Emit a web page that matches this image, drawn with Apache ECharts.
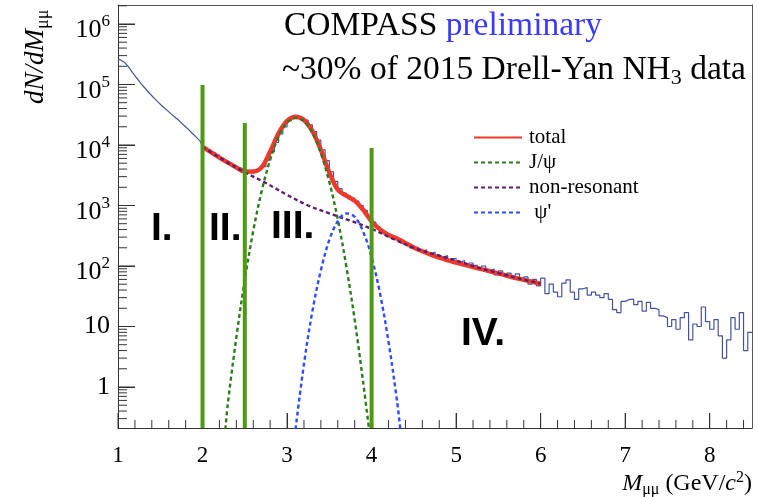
<!DOCTYPE html>
<html>
<head>
<meta charset="utf-8">
<script src="https://cdn.jsdelivr.net/npm/echarts@6/dist/echarts.min.js"></script>
<style>
  html, body { margin: 0; padding: 0; background: #fff; }
  #chart { width: 758px; height: 497px; }
</style>
</head>
<body>
<div id="chart"></div>
<script>
// dimuon mass histogram, 0.05 GeV bins starting at 1 GeV
const binWidth = 0.05;
const histStart = 1.0;
const histCounts = [
  257000, 234000, 195000, 155000, 126000, 102000, 85000, 71000, 60000, 51000,
  43600, 38000, 33000, 28800, 25100, 21400, 18600, 15800, 13500, 11500,
  9100, 8300, 7500, 6800, 6100, 5500, 5000, 4600, 4200, 3900,
  3600, 3450, 3600, 3900, 4400, 5600, 7700, 11000, 15200, 20000,
  25000, 28300, 29500, 28200, 25700, 21500, 16600, 12000, 8300, 5500,
  3600, 2500, 1900, 1600, 1450, 1320, 1180, 1000, 830, 660,
  530, 440, 390, 340, 316, 275, 282, 240, 234, 200,
  204, 174, 186, 158, 170, 151, 141, 148, 120, 132,
  115, 123, 98, 112, 102, 91, 100, 85, 89, 71,
  83, 69, 76, 63, 74, 58, 66, 50, 60, 47,
  63, 35, 50, 37, 31, 52, 59, 37, 28, 42,
  44, 33, 37, 33, 30, 35, 28, 19, 17, 26,
  28, 28, 23, 26, 18, 25, 20, 19, 15, 14,
  10, 13, 9, 14, 17, 6, 11, 10, 21, 12,
  9, 13, 7, 3, 6, 14, 9, 17, 4, 8
];
// below this mass the statistics are high and the spectrum is drawn as a curve
const smoothBins = 20;

// fit components
const totalX = [2.0, 2.1, 2.2, 2.3, 2.4, 2.5, 2.6, 2.7, 2.8, 2.9, 3.0, 3.1, 3.2, 3.3, 3.4, 3.5, 3.6, 3.7, 3.8, 3.9,
  4.0, 4.1, 4.2, 4.3, 4.4, 4.5, 4.6, 4.7, 4.8, 4.9, 5.0, 5.2, 5.4, 5.6, 5.8, 6.0];
const totalY = [9300, 7600, 6200, 5100, 4250, 3610, 3630, 4300, 7800, 15600, 25000, 29400, 25900, 16900, 8300, 3500, 1820, 1450, 1200, 850,
  545, 400, 326, 285, 240, 202, 175, 154, 137, 124, 114, 96, 82, 69, 59, 51];

const jpsiX = [2.27, 2.3, 2.4, 2.5, 2.6, 2.7, 2.8, 2.9, 3.0, 3.1, 3.2, 3.3, 3.4, 3.5, 3.6, 3.7, 3.8, 3.9, 3.97];
const jpsiY = [0.2, 0.54, 6.6, 59, 380, 1740, 5700, 13800, 23500, 28000, 24700, 15800, 7300, 2450, 590, 100, 13, 1.2, 0.2];

const nonresX = [2.0, 2.25, 2.5, 2.75, 3.0, 3.25, 3.5, 3.75, 4.0, 4.25, 4.5, 4.75, 5.0, 5.25, 5.5, 5.75, 6.0];
const nonresY = [9300, 5600, 3550, 2350, 1500, 1000, 740, 560, 410, 282, 200, 155, 123, 95, 76, 62, 51];

const psiPX = [3.10, 3.2, 3.3, 3.4, 3.5, 3.6, 3.7, 3.8, 3.9, 4.0, 4.1, 4.2, 4.3, 4.34];
const psiPY = [0.2, 2.4, 18, 85, 270, 550, 740, 650, 370, 140, 35, 5.6, 0.6, 0.2];

// region boundaries (green bars)
const cutX = [2.0, 2.5, 4.0];
const cutTop = [98000, 23000, 8900];

const xMin = 1, xMax = 8.5;
const yMin = 0.21, yMax = 2.06e6;

const SERIF = 'Liberation Serif';
const SANS = 'Liberation Sans';
const AXIS = '#333';

const pairs = (xs, ys) => xs.map((x, i) => [x, ys[i]]);
const edge = (i) => +(histStart + i * binWidth).toFixed(3);

// low-mass part through bin centres, rest as steps
const curveData = [[xMin, histCounts[0]]];
for (let i = 0; i < smoothBins; i++) curveData.push([edge(i) + binWidth / 2, histCounts[i]]);
curveData.push([edge(smoothBins), histCounts[smoothBins]]);

const stepData = [];
for (let i = smoothBins; i < histCounts.length; i++) stepData.push([edge(i), histCounts[i]]);
stepData.push([xMax, histCounts[histCounts.length - 1]]);

// tick positions: decades + 2..9 x 10^k on y, integers + every 0.2 on x
const yMajorTicks = [1, 10, 100, 1e3, 1e4, 1e5, 1e6];
const yMinorTicks = [];
for (let k = -1; k <= 6; k++) {
  for (let m = 2; m <= 9; m++) {
    const v = m * Math.pow(10, k);
    if (v > yMin && v < yMax) yMinorTicks.push(v);
  }
}
const xMajorTicks = [1, 2, 3, 4, 5, 6, 7, 8];
const xMinorTicks = [];
for (let i = 1; i < 38; i++) {
  const v = +(1 + i * 0.2).toFixed(1);
  if (Math.abs(v - Math.round(v)) > 1e-6) xMinorTicks.push(v);
}

const chart = echarts.init(document.getElementById('chart'));

const cutSeries = cutX.map((x, i) => ({
  type: 'line',
  data: [[x, yMin], [x, cutTop[i]]],
  symbol: 'none',
  lineStyle: { color: '#4f9a14', width: 4 },
  z: 8,
  silent: true
}));

const frameAxis = { show: true, axisLine: { show: true, lineStyle: { color: '#555', width: 1 } },
  axisTick: { show: false }, axisLabel: { show: false }, splitLine: { show: false } };

const option = {
  animation: false,
  grid: { left: 118, right: 6, top: 5, bottom: 69 },
  legend: {
    data: ['total', 'J/ψ', 'non-resonant', ' ψ\''],
    orient: 'vertical',
    left: 473,
    top: 127,
    padding: 0,
    itemWidth: 48,
    itemHeight: 12,
    itemGap: 4,
    itemStyle: { opacity: 0 },
    textStyle: { fontFamily: SERIF, fontSize: 21, color: '#000', padding: [0, 0, 0, 2] }
  },
  xAxis: [
    {
      type: 'value',
      min: xMin,
      max: xMax,
      interval: 1,
      axisLine: { show: true, lineStyle: { color: AXIS, width: 1 } },
      axisTick: { show: true, inside: true, length: 15, lineStyle: { color: AXIS } },
      axisLabel: { fontFamily: SERIF, fontSize: 23, color: '#000', margin: 16, showMaxLabel: false },
      splitLine: { show: false }
    },
    Object.assign({ type: 'value', position: 'top', min: 0, max: 1 }, frameAxis)
  ],
  yAxis: [
    {
      type: 'log',
      logBase: 10,
      min: yMin,
      max: yMax,
      axisLine: { show: true, lineStyle: { color: AXIS, width: 1 } },
      axisTick: { show: true, inside: true, length: 17, lineStyle: { color: AXIS } },
      axisLabel: {
        fontFamily: SERIF, fontSize: 26, color: '#000', margin: 8,
        showMinLabel: false, showMaxLabel: false,
        formatter: (v) => {
          const e = Math.round(Math.log10(v));
          if (e === 0) return '1';
          if (e === 1) return '10';
          return '{b|10}{sup|' + e + '}';
        },
        rich: {
          b: { fontFamily: SERIF, fontSize: 26, color: '#000', padding: [13, 0, 0, 0] },
          sup: { fontFamily: SERIF, fontSize: 17, color: '#000', verticalAlign: 'top', padding: [9, 0, 0, 0] }
        }
      },
      splitLine: { show: false }
    },
    Object.assign({ type: 'value', position: 'right', min: 0, max: 1 }, frameAxis)
  ],
  series: [
    {
      name: 'data',
      type: 'line',
      data: curveData,
      symbol: 'none',
      lineStyle: { color: '#46529c', width: 1.2 },
      z: 2,
      silent: true
    },
    {
      name: 'data',
      type: 'line',
      step: 'end',
      data: stepData,
      symbol: 'none',
      lineStyle: { color: '#46529c', width: 1.2 },
      z: 2,
      silent: true
    },
    {
      name: 'total',
      type: 'line',
      data: pairs(totalX, totalY),
      smooth: 0.35,
      symbol: 'none',
      lineStyle: { color: '#ee3a2c', width: 4.5 },
      itemStyle: { color: '#ee3a2c' },
      z: 3
    },
    {
      name: 'J/ψ',
      type: 'line',
      data: pairs(jpsiX, jpsiY),
      smooth: 0.35,
      symbol: 'none',
      lineStyle: { color: '#2f7a1f', width: 2.4, type: [4, 3] },
      itemStyle: { color: '#2f7a1f' },
      z: 4
    },
    {
      name: 'non-resonant',
      type: 'line',
      data: pairs(nonresX, nonresY),
      smooth: 0.35,
      symbol: 'none',
      lineStyle: { color: '#5e1e6e', width: 2.4, type: [4, 3] },
      itemStyle: { color: '#5e1e6e' },
      z: 4
    },
    {
      name: ' ψ\'',
      type: 'line',
      data: pairs(psiPX, psiPY),
      smooth: 0.35,
      symbol: 'none',
      lineStyle: { color: '#2f4cff', width: 2.4, type: [4, 3] },
      itemStyle: { color: '#2f4cff' },
      z: 4
    },
    ...cutSeries
  ],
  graphic: [
    {
      type: 'text', x: 284, y: 9,
      style: {
        text: '{b|COMPASS }{p|preliminary}',
        rich: {
          b: { fontFamily: SERIF, fontSize: 33.5, fill: '#000' },
          p: { fontFamily: SERIF, fontSize: 33.5, fill: '#3a3aff' }
        }
      }
    },
    {
      type: 'text', x: 282, y: 51,
      style: {
        text: '{t|~30% of 2015 Drell-Yan NH}{s|3}{t| data}',
        rich: {
          t: { fontFamily: SERIF, fontSize: 33.5, fill: '#000' },
          s: { fontFamily: SERIF, fontSize: 22, fill: '#000', verticalAlign: 'bottom', padding: [16, 0, 0, 0] }
        }
      }
    },
    {
      type: 'text', x: 36, y: 104, rotation: Math.PI / 2,
      style: {
        text: '{i|dN/dM}{s|μμ}',
        align: 'left', verticalAlign: 'middle',
        rich: {
          i: { fontFamily: SERIF, fontStyle: 'italic', fontSize: 27, fill: '#000' },
          s: { fontFamily: SERIF, fontSize: 18, fill: '#000', verticalAlign: 'bottom', padding: [14, 0, 0, 0] }
        }
      }
    },
    {
      type: 'text', x: 752, y: 484,
      style: {
        text: '{i|M}{s|μμ}{t| (GeV/}{i|c}{p|2}{t|)}',
        align: 'right', verticalAlign: 'middle',
        rich: {
          i: { fontFamily: SERIF, fontStyle: 'italic', fontSize: 24, fill: '#000' },
          t: { fontFamily: SERIF, fontSize: 24, fill: '#000' },
          s: { fontFamily: SERIF, fontSize: 16, fill: '#000', verticalAlign: 'bottom', padding: [12, 0, 0, 0] },
          p: { fontFamily: SERIF, fontSize: 16, fill: '#000', verticalAlign: 'top', padding: [0, 0, 10, 0] }
        }
      }
    },
    { type: 'text', x: 151, y: 229, style: { text: 'I.', fontFamily: SANS, fontWeight: 'bold', fontSize: 39, fill: '#000', verticalAlign: 'middle' } },
    { type: 'text', x: 209, y: 229, style: { text: 'II.', fontFamily: SANS, fontWeight: 'bold', fontSize: 39, fill: '#000', verticalAlign: 'middle' } },
    { type: 'text', x: 271, y: 227, style: { text: 'III.', fontFamily: SANS, fontWeight: 'bold', fontSize: 39, fill: '#000', verticalAlign: 'middle' } },
    { type: 'text', x: 461, y: 334, style: { text: 'IV.', fontFamily: SANS, fontWeight: 'bold', fontSize: 39, fill: '#000', verticalAlign: 'middle' } }
  ]
};

chart.setOption(option);

// inside ticks drawn as short line segments; lengths in pixels are turned
// into data offsets through the chart's own scales
const finder = { xAxisIndex: 0, yAxisIndex: 0 };
const toPx = (d) => chart.convertToPixel(finder, d);
const toData = (p) => chart.convertFromPixel(finder, p);

const ySeg = (v, len) => {
  const p = toPx([xMin, v]);
  const q = toData([p[0] + len, p[1]]);
  return [[xMin, v], [q[0], v]];
};
const xSeg = (v, len) => {
  const p = toPx([v, yMin]);
  const q = toData([p[0], p[1] - len]);
  return [[v, yMin], [v, q[1]]];
};
const tickLine = (segs) => {
  const data = [];
  segs.forEach(([a, b]) => { data.push(a, b, [a[0], '-']); });
  return {
    type: 'line',
    data: data,
    symbol: 'none',
    connectNulls: false,
    clip: false,
    silent: true,
    lineStyle: { color: AXIS, width: 1 },
    z: 6
  };
};

try {
  const ySegs = yMajorTicks.map(v => ySeg(v, 17)).concat(yMinorTicks.map(v => ySeg(v, 9)));
  const xSegs = xMajorTicks.map(v => xSeg(v, 15)).concat(xMinorTicks.map(v => xSeg(v, 8)));
  chart.setOption({ series: option.series.concat([tickLine(ySegs), tickLine(xSegs)]) });
} catch (e) {
  // leave the chart without the drawn ticks
}
</script>
</body>
</html>
